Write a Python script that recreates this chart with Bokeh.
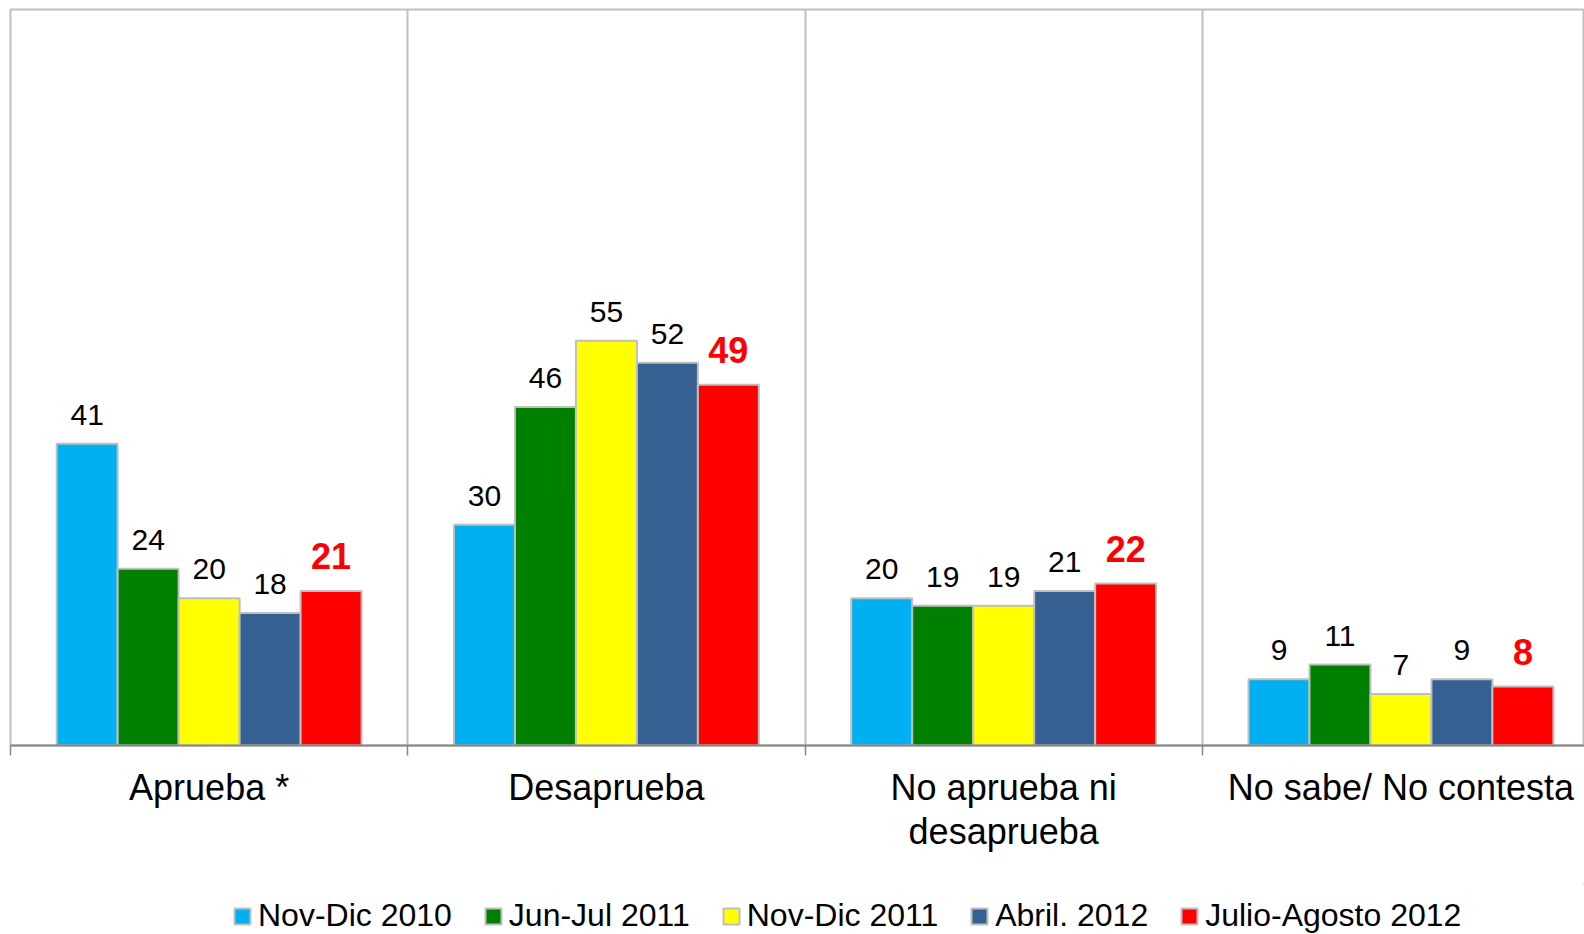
from bokeh.plotting import figure
from bokeh.models import ColumnDataSource, Range1d, FixedTicker, Legend, LegendItem
from bokeh.layouts import column
from bokeh.transform import dodge
from bokeh.core.properties import value
from bokeh.embed import file_html
from bokeh.resources import INLINE

# ---------------- data ----------------
categories = ["Aprueba *", "Desaprueba", "No aprueba ni\ndesaprueba", "No sabe/ No contesta"]
series_names = ["Nov-Dic 2010", "Jun-Jul 2011", "Nov-Dic 2011", "Abril. 2012", "Julio-Agosto 2012"]
nov_dic_2010 = [41, 30, 20, 9]
jun_jul_2011 = [24, 46, 19, 11]
nov_dic_2011 = [20, 55, 19, 7]
abril_2012 = [18, 52, 21, 9]
julio_agosto_2012 = [21, 49, 22, 8]
series_values = [nov_dic_2010, jun_jul_2011, nov_dic_2011, abril_2012, julio_agosto_2012]
colors = ["#00B0F0", "#008000", "#FFFF00", "#376092", "#FF0000"]

FONT = "Liberation Sans"
cat_x = [i + 0.5 for i in range(len(categories))]
bar_w = 0.1535
offsets = [(k - 2) * bar_w for k in range(len(series_names))]

p = figure(width=1584, height=883, output_backend="svg", toolbar_location=None,
           x_range=Range1d(0, 3.962), y_range=Range1d(0, 100),
           y_axis_location=None, min_border_left=10, min_border_right=0,
           min_border_top=9, min_border_bottom=138)

p.outline_line_color = "#BFBFBF"
p.outline_line_width = 2
p.background_fill_color = "white"
p.border_fill_color = "white"

ticker = FixedTicker(ticks=cat_x, minor_ticks=[0, 1, 2, 3, 4])
p.xaxis.ticker = ticker
p.xaxis.major_label_overrides = {cx: c for cx, c in zip(cat_x, categories)}
p.xaxis.major_tick_out = 0
p.xaxis.major_tick_in = 0
p.xaxis.minor_tick_out = 10
p.xaxis.minor_tick_in = 0
p.xaxis.minor_tick_line_color = "#868686"
p.xaxis.minor_tick_line_width = 1.5
p.xaxis.axis_line_color = "#868686"
p.xaxis.axis_line_width = 2
p.xaxis.major_label_text_font = FONT
p.xaxis.major_label_text_font_size = "36px"
p.xaxis.major_label_text_color = "black"
p.xaxis.major_label_text_line_height = 1.09
p.xaxis.major_label_standoff = 11

p.xgrid.ticker = ticker
p.xgrid.grid_line_color = None
p.xgrid.minor_grid_line_color = "#BFBFBF"
p.xgrid.minor_grid_line_width = 2
p.ygrid.grid_line_color = None

for k, (name, vals, col) in enumerate(zip(series_names, series_values, colors)):
    src = ColumnDataSource(dict(x=cat_x, top=vals, label=[str(v) for v in vals]))
    p.vbar(x=dodge("x", offsets[k], range=p.x_range), top="top", width=bar_w, bottom=0,
           source=src, fill_color=col, line_color="#BFBFBF", line_width=2)
    last = k == len(series_names) - 1
    p.text(x=dodge("x", offsets[k], range=p.x_range), y="top", text="label", source=src,
           text_align="center", text_baseline="alphabetic",
           y_offset=-35 if last else -29,
           text_font=value(FONT),
           text_font_size="36px" if last else "30px",
           text_font_style="bold" if last else "normal",
           text_color="#FF0000" if last else "black")

# legend strip below the chart (swatch renderers sit outside the strip's visible range)
lf = figure(width=1584, height=51, output_backend="svg", toolbar_location=None,
            x_range=Range1d(0, 1), y_range=Range1d(0, 1),
            x_axis_location=None, y_axis_location=None, min_border=0)
lf.outline_line_color = None
lf.xgrid.visible = False
lf.ygrid.visible = False
lf.background_fill_color = "white"
lf.border_fill_color = "white"

items = []
for name, col in zip(series_names, colors):
    r = lf.vbar(x=[5], top=[5], bottom=[4], width=0.1, fill_color=col,
                line_color="#BFBFBF", line_width=2)
    items.append(LegendItem(label=name, renderers=[r]))

legend = Legend(items=items, orientation="horizontal", location=(222, 0),
                label_text_font=FONT, label_text_font_size="32px", label_text_color="black",
                glyph_width=20, glyph_height=20, label_standoff=6, spacing=31,
                padding=0, margin=0, border_line_color=None, background_fill_alpha=0)
lf.add_layout(legend, "center")

layout = column(p, lf, spacing=0)
open("out.html", "w").write(file_html(layout, INLINE))
